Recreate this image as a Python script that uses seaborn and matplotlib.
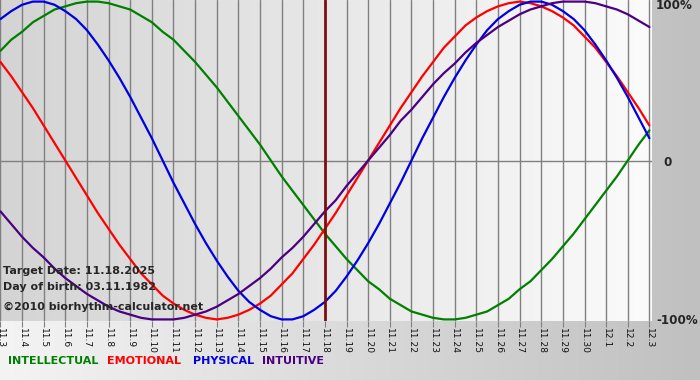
import numpy as np
import pandas as pd
import seaborn as sns
from matplotlib import pyplot as plt
from matplotlib.colors import LinearSegmentedColormap

# day labels, 11.3 .. 12.3
days = ['11.%d' % i for i in range(3, 31)] + ['12.1', '12.2', '12.3']

# values every half day (-1..1), 11.3 .. 12.3
physical = [0.89, 0.94, 0.98, 1.00, 1.00, 0.98, 0.94, 0.89, 0.82, 0.73, 0.63, 0.52,
            0.40, 0.27, 0.14, 0.00, -0.14, -0.27, -0.40, -0.52, -0.63, -0.73, -0.82,
            -0.89, -0.94, -0.98, -1.00, -1.00, -0.98, -0.94, -0.89, -0.82, -0.73, -0.63,
            -0.52, -0.40, -0.27, -0.14, 0.00, 0.14, 0.27, 0.40, 0.52, 0.63, 0.73, 0.82,
            0.89, 0.94, 0.98, 1.00, 1.00, 0.98, 0.94, 0.89, 0.82, 0.73, 0.63, 0.52,
            0.40, 0.27, 0.14]
emotional = [0.62, 0.53, 0.43, 0.33, 0.22, 0.11, 0.00, -0.11, -0.22, -0.33, -0.43,
             -0.53, -0.62, -0.71, -0.78, -0.85, -0.90, -0.94, -0.97, -0.99, -1.00, -0.99,
             -0.97, -0.94, -0.90, -0.85, -0.78, -0.71, -0.62, -0.53, -0.43, -0.33, -0.22,
             -0.11, 0.00, 0.11, 0.22, 0.33, 0.43, 0.53, 0.62, 0.71, 0.78, 0.85, 0.90,
             0.94, 0.97, 0.99, 1.00, 0.99, 0.97, 0.94, 0.90, 0.85, 0.78, 0.71, 0.62,
             0.53, 0.43, 0.33, 0.22]
intellectual = [0.69, 0.76, 0.81, 0.87, 0.91, 0.95, 0.97, 0.99, 1.00, 1.00, 0.99,
                0.97, 0.95, 0.91, 0.87, 0.81, 0.76, 0.69, 0.62, 0.54, 0.46, 0.37, 0.28,
                0.19, 0.10, 0.00, -0.10, -0.19, -0.28, -0.37, -0.46, -0.54, -0.62, -0.69,
                -0.76, -0.81, -0.87, -0.91, -0.95, -0.97, -0.99, -1.00, -1.00, -0.99, -0.97,
                -0.95, -0.91, -0.87, -0.81, -0.76, -0.69, -0.62, -0.54, -0.46, -0.37,
                -0.28, -0.19, -0.10, 0.00, 0.10, 0.19]
intuitive = [-0.32, -0.40, -0.48, -0.55, -0.61, -0.68, -0.74, -0.79, -0.84, -0.88,
             -0.92, -0.95, -0.97, -0.99, -1.00, -1.00, -1.00, -0.99, -0.97, -0.95, -0.92,
             -0.88, -0.84, -0.79, -0.74, -0.68, -0.61, -0.55, -0.48, -0.40, -0.32, -0.25,
             -0.16, -0.08, 0.00, 0.08, 0.16, 0.25, 0.32, 0.40, 0.48, 0.55, 0.61, 0.68,
             0.74, 0.79, 0.84, 0.88, 0.92, 0.95, 0.97, 0.99, 1.00, 1.00, 1.00, 0.99,
             0.97, 0.95, 0.92, 0.88, 0.84]
target_day = '11.18'

series = {'INTELLECTUAL': (intellectual, '#008000'),
          'EMOTIONAL': (emotional, '#ff0000'),
          'PHYSICAL': (physical, '#0000e0'),
          'INTUITIVE': (intuitive, '#4b0082')}

sns.set_style('white')
plt.rcParams['font.family'] = ['DejaVu Sans']

fig = plt.figure(figsize=(7, 3.8), dpi=100)

# figure background gradient
bg = fig.add_axes([0, 0, 1, 1], zorder=-10)
bg.imshow(np.linspace(0, 1, 256).reshape(1, -1),
          cmap=LinearSegmentedColormap.from_list('g', ['#f4f4f4', '#c0c0c0']),
          aspect='auto', extent=[0, 1, 0, 1])
bg.axis('off')

ax = fig.add_axes([0, 1 - 321 / 380, 652 / 700, 321 / 380])
ax.patch.set_alpha(0)
ax.imshow(np.linspace(0, 1, 256).reshape(1, -1),
          cmap=LinearSegmentedColormap.from_list('p', ['#d4d4d4', '#fbfbfb']),
          aspect='auto', extent=[0, 1, 0, 1], transform=ax.transAxes, zorder=0)

x = np.arange(len(days))
xh = np.arange(len(physical)) * 0.5
for name, (vals, col) in series.items():
    df = pd.DataFrame({'day': xh, 'val': vals})
    sns.lineplot(data=df, x='day', y='val', color=col, lw=1.6, ax=ax, zorder=3)

for xi in x:
    ax.axvline(xi, color='#808080', lw=1, zorder=1)
ax.axhline(0, color='#808080', lw=1, zorder=1)
ax.axvline(days.index(target_day), color='#7a1010', lw=2, zorder=4)

ax.set_xlim(-0.02, 30.12)
ax.set_ylim(-1.01, 1.01)
ax.set_xticks(x)
ax.set_xticklabels(days, rotation=-90, fontsize=6.6, color='#111111')
ax.set_yticks([])
ax.tick_params(axis='x', length=4, color='#808080', pad=1, bottom=True)
ax.set_xlabel('')
ax.set_ylabel('')
for s in ax.spines.values():
    s.set_visible(False)

# right side labels
ax.text(1.005, 0.982, '100%', transform=ax.transAxes, fontsize=8.6, fontweight='bold', va='center', ha='left')
ax.text(1.018, 0.495, '0', transform=ax.transAxes, fontsize=8.6, fontweight='bold', va='center', ha='left')
ax.text(1.071, 0.0, '-100%', transform=ax.transAxes, fontsize=8.6, fontweight='bold', va='center', ha='right', clip_on=False)

# info text
for txt, ypx in [('Target Date: 11.18.2025', 271), ('Day of birth: 03.11.1982', 287),
                 ('\u00a92010 biorhythm-calculator.net', 307)]:
    fig.text(3 / 700, 1 - ypx / 380, txt, fontsize=8.0, fontweight='bold', va='center', zorder=10)

# colored legend words
for (name, (vals, col)), xpx in zip(series.items(), [8, 107, 193, 262]):
    fig.text(xpx / 700, 1 - 361 / 380, name, color=col, fontsize=8.0, fontweight='bold', va='center')

fig.savefig('out.png', dpi=100)
